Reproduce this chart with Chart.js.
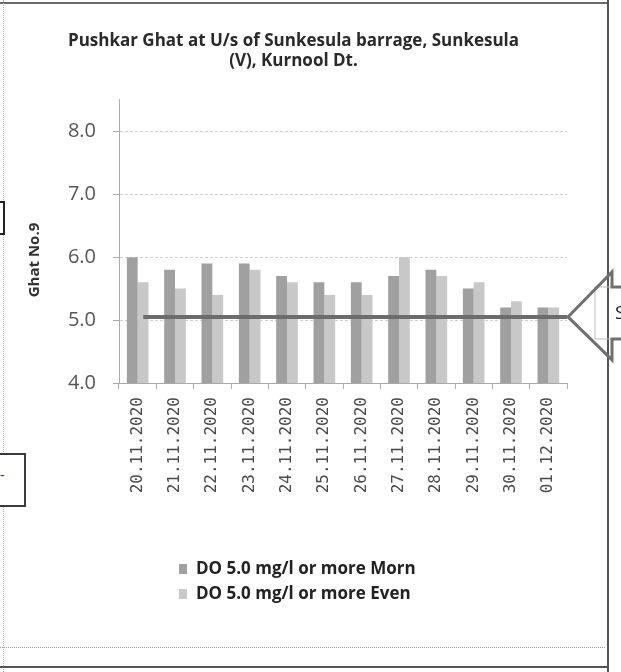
<!DOCTYPE html>
<html>
<head>
<meta charset="utf-8">
<script src="https://cdn.jsdelivr.net/npm/chart.js@4.4.0/dist/chart.umd.min.js"></script>
<style>
  html, body { margin: 0; padding: 0; background: #fff; }
  #wrap { position: relative; width: 621px; height: 672px; overflow: hidden; }
  #chart { position: absolute; left: 0; top: 0; }
  .line { position: absolute; }
  .box { position: absolute; border: 2px solid #3a3a3a; background: #fff; }
</style>
</head>
<body>
<div id="wrap">
  <!-- frame of the scanned sheet -->
  <div class="line" style="left:0;top:2px;width:609px;height:0;border-top:2px solid #6a6a6a;"></div>
  <div class="line" style="left:3px;top:0;width:0;height:672px;border-left:1px dotted #aaa;"></div>
  <div class="line" style="left:607px;top:0;width:0;height:672px;border-left:2px solid #555;"></div>
  <div class="line" style="left:0;top:647px;width:605px;height:0;border-top:1px dotted #999;"></div>
  <div class="line" style="left:0;top:666px;width:609px;height:0;border-top:2px solid #555;"></div>
  <div class="box" style="left:-50px;top:201px;width:51px;height:30px;border-color:#222;"></div>
  <div class="box" style="left:-40px;top:453px;width:62px;height:50px;"></div>
  <div class="line" style="left:0;top:465px;font:14px 'Open Sans';color:#333;">-</div>
  <canvas id="chart" width="621" height="672"></canvas>
</div>
<script>
// dates on the x axis
const dates = ["20.11.2020", "21.11.2020", "22.11.2020", "23.11.2020", "24.11.2020", "25.11.2020",
               "26.11.2020", "27.11.2020", "28.11.2020", "29.11.2020", "30.11.2020", "01.12.2020"];
// DO values (mg/l)
const doMorn = [6.0, 5.8, 5.9, 5.9, 5.7, 5.6, 5.6, 5.7, 5.8, 5.5, 5.2, 5.2];
const doEven = [5.6, 5.5, 5.4, 5.8, 5.6, 5.4, 5.4, 6.0, 5.7, 5.6, 5.3, 5.2];
// standard line (category index -> value)
const standardX = [0.15, 11.5];
const standardY = [5.05, 5.05];
const yTicks = [4, 5, 6, 7, 8];

// legend stacked under the axis
const stackLegend = {
  id: "stackLegend",
  afterDraw(chart) {
    const ctx = chart.ctx;
    const items = chart.data.datasets.filter((d) => d.type !== "line");
    ctx.save();
    ctx.font = "bold 17px 'Open Sans'";
    ctx.textBaseline = "middle";
    items.forEach((d, i) => {
      const y = 569 + i * 25;
      ctx.fillStyle = d.backgroundColor;
      ctx.fillRect(179, y - 5, 8, 10);
      ctx.fillStyle = "#222";
      ctx.fillText(d.label, 196, y);
    });
    ctx.restore();
  },
};

// y axis title, a little below the middle of the axis as in the original
const yTitle = {
  id: "yTitle",
  afterDraw(chart) {
    const ctx = chart.ctx;
    ctx.save();
    ctx.translate(35, 260);
    ctx.rotate(-Math.PI / 2);
    ctx.font = "bold 15px 'Open Sans'";
    ctx.fillStyle = "#333";
    ctx.textAlign = "center";
    ctx.textBaseline = "middle";
    ctx.fillText("Ghat No.9", 0, 0);
    ctx.restore();
  },
};

// arrow callout at the end of the standard line
const callout = {
  id: "callout",
  afterDraw(chart) {
    const ctx = chart.ctx;
    const tipX = chart.chartArea.right + 1;
    const tipY = chart.scales.y.getPixelForValue(standardY[1]);
    ctx.save();
    ctx.strokeStyle = "#bbb";
    ctx.lineWidth = 1;
    ctx.strokeRect(tipX + 27, tipY - 30, 60, 52);
    ctx.strokeStyle = "#707070";
    ctx.lineWidth = 3;
    ctx.beginPath();
    ctx.moveTo(630, tipY - 30);
    ctx.lineTo(tipX + 44, tipY - 30);
    ctx.lineTo(tipX + 44, tipY - 45);
    ctx.lineTo(tipX, tipY);
    ctx.lineTo(tipX + 44, tipY + 43);
    ctx.lineTo(tipX + 44, tipY + 22);
    ctx.lineTo(630, tipY + 22);
    ctx.stroke();
    ctx.fillStyle = "#222";
    ctx.font = "19px 'Open Sans'";
    ctx.textBaseline = "middle";
    ctx.fillText("S", tipX + 47, tipY - 3);
    ctx.restore();
  },
};

new Chart(document.getElementById("chart"), {
  type: "bar",
  data: {
    labels: dates,
    datasets: [
      {
        label: "DO 5.0 mg/l or more Morn",
        data: doMorn,
        backgroundColor: "#a0a0a0",
        categoryPercentage: 0.58,
        barPercentage: 1,
        order: 1,
      },
      {
        label: "DO 5.0 mg/l or more Even",
        data: doEven,
        backgroundColor: "#c8c8c8",
        categoryPercentage: 0.58,
        barPercentage: 1,
        order: 1,
      },
      {
        // drawn on the category axis with fractional positions (parsing off)
        type: "line",
        label: "Standard",
        parsing: false,
        data: standardX.map((x, i) => ({ x: x, y: standardY[i] })),
        borderColor: "#6c6c6c",
        borderWidth: 4,
        pointRadius: 0,
        order: 0,
      },
    ],
  },
  options: {
    responsive: false,
    animation: false,
    layout: { padding: { left: 20, right: 54, top: 0, bottom: 164 } },
    plugins: {
      legend: { display: false },
      tooltip: { enabled: false },
      title: {
        display: true,
        text: ["Pushkar Ghat at U/s of Sunkesula barrage, Sunkesula", "(V), Kurnool Dt."],
        font: { family: "Open Sans", size: 17, weight: "bold", lineHeight: 1.2 },
        color: "#2a2a2a",
        padding: { top: 31, bottom: 28 },
      },
    },
    scales: {
      x: {
        min: 0,
        max: dates.length - 1,
        grid: { drawOnChartArea: false, drawTicks: true, tickLength: 6, color: "#aaa" },
        border: { color: "#aaa" },
        ticks: {
          font: { family: "DejaVu Sans Mono", size: 16 },
          color: "#4a4a4a",
          minRotation: 90,
          maxRotation: 90,
          padding: 8,
          autoSkip: false,
        },
        afterFit: (s) => { s.height = 125; },
      },
      y: {
        min: 4,
        max: 8.5,
        afterBuildTicks: (s) => { s.ticks = yTicks.map((v) => ({ value: v })); },
        grid: { color: "#cfcfcf", tickLength: 6, tickColor: "#aaa" },
        border: { color: "#aaa", dash: [3, 2] },
        ticks: {
          font: { family: "Open Sans", size: 20 },
          color: "#555",
          padding: 17,
          callback: (v) => Number(v).toFixed(1),
        },
        afterFit: (s) => { s.width = 99; },
      },
    },
  },
  plugins: [stackLegend, yTitle, callout],
});
</script>
</body>
</html>
